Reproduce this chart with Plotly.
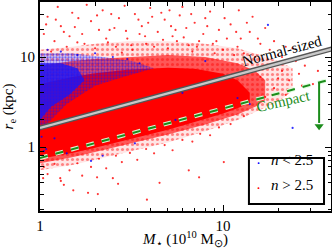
import plotly.graph_objects as go

# ---------------- data ----------------
# dense core of the n > 2.5 cloud: stellar mass (1e10 Msun) and size envelope (kpc)
core_M = [1.0, 1.5, 2.0, 3.0, 5.0, 7.0, 10.0, 12.0, 14.0]
core_lo = [0.74, 0.86, 0.98, 1.2, 1.55, 1.9, 2.35, 2.7, 3.1]
core_hi = [5.0, 6.0, 6.6, 7.2, 7.6, 7.4, 6.5, 5.5, 4.0]

# inner (fairly dense) halo of the cloud
inner_M = [1.0, 1.5, 2.0, 3.0, 5.0, 8.0, 12.0, 15.0, 17.0]
inner_lo = [0.66, 0.77, 0.88, 1.07, 1.38, 1.78, 2.3, 2.8, 3.3]
inner_hi = [8.0, 9.0, 9.5, 10.0, 10.5, 10.0, 8.5, 7.0, 5.5]

# outer (sparse) halo of the cloud
outer_M = [1.0, 1.5, 2.0, 3.0, 5.0, 8.0, 12.0, 16.0, 20.0, 24.0]
outer_lo = [0.55, 0.63, 0.72, 0.88, 1.12, 1.5, 2.0, 2.6, 3.2, 4.2]
outer_hi = [12.0, 13.0, 14.0, 15.0, 15.0, 14.0, 12.5, 10.5, 9.0, 7.5]

# n < 2.5 concentration (upper left)
blue_wide_M = [1.0, 1.5, 2.2, 3.2, 4.2, 3.0, 2.0, 1.4, 1.0]
blue_wide_r = [11.0, 11.0, 10.0, 9.0, 7.5, 6.2, 4.8, 3.0, 1.5]
blue_core_M = [1.0, 1.3, 1.6, 1.75, 1.45, 1.15, 1.0]
blue_core_r = [8.5, 8.5, 7.5, 5.5, 3.8, 2.8, 2.0]

# sparse individual galaxies, n > 2.5
red_M = [1.1, 1.3, 1.5, 1.7, 1.9, 2.2, 2.4, 2.7, 3.0, 3.3, 3.6, 4.0, 4.4, 4.8, 5.3,
         5.8, 6.3, 7.0, 7.8, 8.5, 9.5, 11.0, 12.5, 14.0, 1.2, 1.4, 1.6, 2.0, 2.3,
         2.6, 3.2, 3.8, 4.2, 5.0, 5.6, 6.5, 7.4, 8.8, 10.5, 12.0, 1.05, 1.25, 1.8,
         2.9, 3.9, 4.6, 6.0, 8.0, 10.0, 13.0, 16.0, 18.0, 20.0, 22.0, 25.0, 17.0,
         1.15, 1.35, 2.1, 2.8, 3.5, 5.2, 6.8, 9.0, 11.5, 15.0,
         1.08, 1.22, 1.45, 1.62, 1.75, 2.05, 2.35, 2.55, 2.95, 3.15, 3.45, 3.75,
         4.1, 4.7, 5.1, 5.5, 6.1, 6.7, 7.2, 8.2, 9.2, 10.2, 11.8, 13.5, 15.5,
         19.0, 14.5, 12.2, 1.55, 2.45,
         16.0, 18.0, 19.0, 21.0, 23.0, 24.0, 26.0, 28.0, 30.0, 33.0, 22.0, 27.0,
         17.0, 20.0, 31.0, 21.0, 24.0,
         1.05, 1.1, 1.2, 1.3, 1.45, 1.6, 1.7, 1.9, 2.1, 2.3, 2.6, 2.8, 3.1, 3.4,
         3.8, 4.2, 4.8, 5.3, 6.0, 6.8, 7.5, 8.5, 9.5, 11.0, 13.0, 1.52, 1.83,
         2.07, 3.84, 1.29, 2.05, 1.04, 2.67, 10.1, 7.4, 4.5, 6.5, 1.35, 2.5]
red_r = [28.0, 22.0, 31.0, 18.0, 25.0, 33.0, 20.0, 27.0, 16.0, 30.0, 22.0, 35.0, 19.0,
         26.0, 17.0, 29.0, 21.0, 24.0, 18.0, 32.0, 20.0, 23.0, 16.0, 19.0, 15.0,
         13.0, 14.5, 12.5, 16.0, 13.0, 12.0, 14.0, 13.0, 12.5, 15.0, 13.5, 15.0,
         14.0, 16.0, 13.0, 18.0, 36.0, 38.0, 37.0, 24.0, 31.0, 36.0, 27.0, 12.0,
         11.0, 14.0, 12.0, 10.5, 13.0, 9.0, 21.0,
         11.5, 19.0, 20.0, 11.2, 18.0, 22.0, 11.5, 11.0, 10.5, 10.0,
         23.0, 26.0, 17.0, 27.0, 14.0, 29.0, 14.5, 21.0, 19.5, 13.5, 26.0, 17.0,
         28.0, 15.5, 33.0, 20.0, 16.5, 30.0, 13.0, 22.0, 15.0, 27.0, 19.0, 24.0,
         16.0, 15.0, 28.0, 33.0, 21.5, 30.0,
         6.0, 8.0, 4.5, 7.0, 5.5, 9.5, 6.5, 8.0, 11.0, 7.0, 3.8, 4.8,
         3.6, 5.8, 5.0, 10.0, 12.5,
         0.6, 0.5, 0.65, 0.42, 0.55, 0.66, 0.48, 0.6, 0.74, 0.58, 0.8, 0.68, 0.86,
         0.72, 0.95, 0.85, 1.05, 0.92, 1.2, 1.15, 1.4, 1.35, 1.65, 1.8, 2.2, 0.33,
         0.31, 0.30, 0.26, 0.45, 0.46, 0.45, 0.39, 0.68, 0.46, 0.4, 0.55, 0.38, 0.45]

# sparse individual galaxies, n < 2.5
blue_M = [1.1, 1.3, 1.6, 2.0, 2.5, 3.0, 3.5, 1.2, 1.05, 1.4, 2.2, 3.3, 5.5, 12.0,
          17.6, 24.0, 8.0, 6.0, 14.0, 1.02, 1.08, 1.9]
blue_r = [12.0, 11.5, 10.5, 11.0, 10.0, 9.5, 8.5, 1.25, 0.9, 0.85, 0.8, 1.1, 2.0, 3.5,
          22.7, 1.63, 9.0, 4.0, 3.0, 1.3, 0.95, 0.7]

# reference lines
normal_M = [1.0, 40.0]
normal_r = [1.63, 12.4]
compact_M = [1.0, 38.0]
compact_r = [0.755, 5.58]
arrow_M = [33.5, 33.5]
arrow_r = [5.2, 1.85]
arrow_tip_M = [33.5]
arrow_tip_r = [1.7]

x_ticks = [1, 10]
x_ticktext = ["1", "10"]
x_minor = [2, 3, 4, 5, 6, 7, 8, 9, 20, 30]
y_ticks = [1, 10]
y_ticktext = ["1", "10"]
y_minor = [0.2, 0.3, 0.4, 0.5, 0.6, 0.7, 0.8, 0.9, 2, 3, 4, 5, 6, 7, 8, 9, 20, 30, 40]

SERIF = "Liberation Serif, Times New Roman, serif"
GREEN = "#1b8c1b"


def band(ms, lo, hi):
    return ms + ms[::-1], lo + hi[::-1]


fig = go.Figure()

ox, oy = band(outer_M, outer_lo, outer_hi)
fig.add_trace(go.Scatter(x=ox, y=oy, mode="lines", fill="toself", line=dict(width=0),
                         fillcolor="rgba(255,0,0,0.10)",
                         fillpattern=dict(shape=".", fgcolor="#ff2020", bgcolor="rgba(255,0,0,0.10)",
                                          size=5, solidity=0.3),
                         hoverinfo="skip", showlegend=False))
ix, iy = band(inner_M, inner_lo, inner_hi)
fig.add_trace(go.Scatter(x=ix, y=iy, mode="lines", fill="toself", line=dict(width=0),
                         fillcolor="rgba(255,0,0,0.62)", hoverinfo="skip", showlegend=False))
cx, cy = band(core_M, core_lo, core_hi)
fig.add_trace(go.Scatter(x=cx, y=cy, mode="lines", fill="toself", line=dict(width=0),
                         fillcolor="rgb(255,0,0)", hoverinfo="skip", showlegend=False))
fig.add_trace(go.Scatter(x=blue_wide_M, y=blue_wide_r, mode="lines", fill="toself",
                         line=dict(width=0), fillcolor="rgba(0,0,255,0.0)",
                         fillpattern=dict(shape=".", fgcolor="#1010ff", bgcolor="rgba(0,0,255,0.15)",
                                          size=3, solidity=0.45),
                         hoverinfo="skip", showlegend=False))
fig.add_trace(go.Scatter(x=blue_core_M, y=blue_core_r, mode="lines", fill="toself",
                         line=dict(width=0), fillcolor="rgba(20,20,255,0.78)",
                         hoverinfo="skip", showlegend=False))

fig.add_trace(go.Scatter(x=red_M, y=red_r, mode="markers", name="n > 2.5",
                         marker=dict(color="red", size=2.2, opacity=0.8, line=dict(width=0)),
                         showlegend=False))
fig.add_trace(go.Scatter(x=blue_M, y=blue_r, mode="markers", name="n < 2.5",
                         marker=dict(color="blue", size=2.2, opacity=0.8, line=dict(width=0)),
                         showlegend=False))

# normal-sized relation (double line)
fig.add_trace(go.Scatter(x=normal_M, y=normal_r, mode="lines", line=dict(color="#555555", width=5),
                         hoverinfo="skip", showlegend=False))
fig.add_trace(go.Scatter(x=normal_M, y=normal_r, mode="lines", line=dict(color="#c8c8c8", width=2.4),
                         hoverinfo="skip", showlegend=False))
# compact threshold (dashed, with light outline)
fig.add_trace(go.Scatter(x=compact_M, y=compact_r, mode="lines",
                         line=dict(color="rgba(220,255,220,0.95)", width=4.2, dash="8px,8px"),
                         hoverinfo="skip", showlegend=False))
fig.add_trace(go.Scatter(x=compact_M, y=compact_r, mode="lines",
                         line=dict(color=GREEN, width=2, dash="8px,8px"),
                         hoverinfo="skip", showlegend=False))
# arrow
fig.add_trace(go.Scatter(x=arrow_M, y=arrow_r, mode="lines", line=dict(color=GREEN, width=2),
                         hoverinfo="skip", showlegend=False))
fig.add_trace(go.Scatter(x=arrow_tip_M, y=arrow_tip_r, mode="markers",
                         marker=dict(symbol="triangle-down", size=8, color=GREEN, line=dict(width=0)),
                         hoverinfo="skip", showlegend=False))

fig.add_annotation(x=1.322, y=1.067, xref="x", yref="y", text="Normal-sized", showarrow=False,
                   textangle=-15, font=dict(family=SERIF, size=15, color="black"))
fig.add_annotation(x=1.333, y=0.511, xref="x", yref="y", text="Compact", showarrow=False,
                   textangle=-13, font=dict(family=SERIF, size=15, color=GREEN))

# legend box (drawn manually to match the compact layout)
fig.add_shape(type="rect", xref="paper", yref="paper", x0=0.718, x1=0.976, y0=0.0335, y1=0.254,
              line=dict(color="black", width=2), fillcolor="white", layer="above")
fig.add_annotation(xref="paper", yref="paper", x=0.763, y=0.196, text="•", showarrow=False,
                   font=dict(size=8, color="blue"))
fig.add_annotation(xref="paper", yref="paper", x=0.763, y=0.0766, text="•", showarrow=False,
                   font=dict(size=8, color="red"))
fig.add_annotation(xref="paper", yref="paper", x=0.788, y=0.196, xanchor="left", showarrow=False,
                   text="<i>n</i> &lt; 2.5", font=dict(family=SERIF, size=15, color="black"))
fig.add_annotation(xref="paper", yref="paper", x=0.788, y=0.0766, xanchor="left", showarrow=False,
                   text="<i>n</i> &gt; 2.5", font=dict(family=SERIF, size=15, color="black"))

axis_common = dict(type="log", showline=True, linecolor="black", linewidth=2, mirror="ticks",
                   ticks="inside", ticklen=6, tickwidth=1.1, tickcolor="black",
                   showgrid=False, zeroline=False, automargin=False,
                   tickfont=dict(family=SERIF, size=15, color="black"))

fig.update_xaxes(range=[0, 1.59], tickvals=x_ticks, ticktext=x_ticktext,
                 minor=dict(ticks="inside", ticklen=3.5, tickwidth=1, tickcolor="black", tickvals=x_minor),
                 title=dict(text="<i>M</i><sub>⋆</sub> (10<sup>10</sup> M<sub>⊙</sub>)",
                            font=dict(family=SERIF, size=15, color="black"), standoff=6),
                 **axis_common)
fig.update_yaxes(range=[-0.711, 1.611], tickvals=y_ticks, ticktext=y_ticktext,
                 minor=dict(ticks="inside", ticklen=3.5, tickwidth=1, tickcolor="black", tickvals=y_minor),
                 title=dict(text="<i>r</i><sub>e</sub> (kpc)",
                            font=dict(family=SERIF, size=15, color="black"), standoff=7),
                 **axis_common)

fig.update_layout(width=332, height=249, margin=dict(l=40, r=1, t=2, b=38),
                  plot_bgcolor="white", paper_bgcolor="white", showlegend=False)

fig.write_html("out.html", config={"displayModeBar": False},
               post_script="document.body.style.margin='0';")
